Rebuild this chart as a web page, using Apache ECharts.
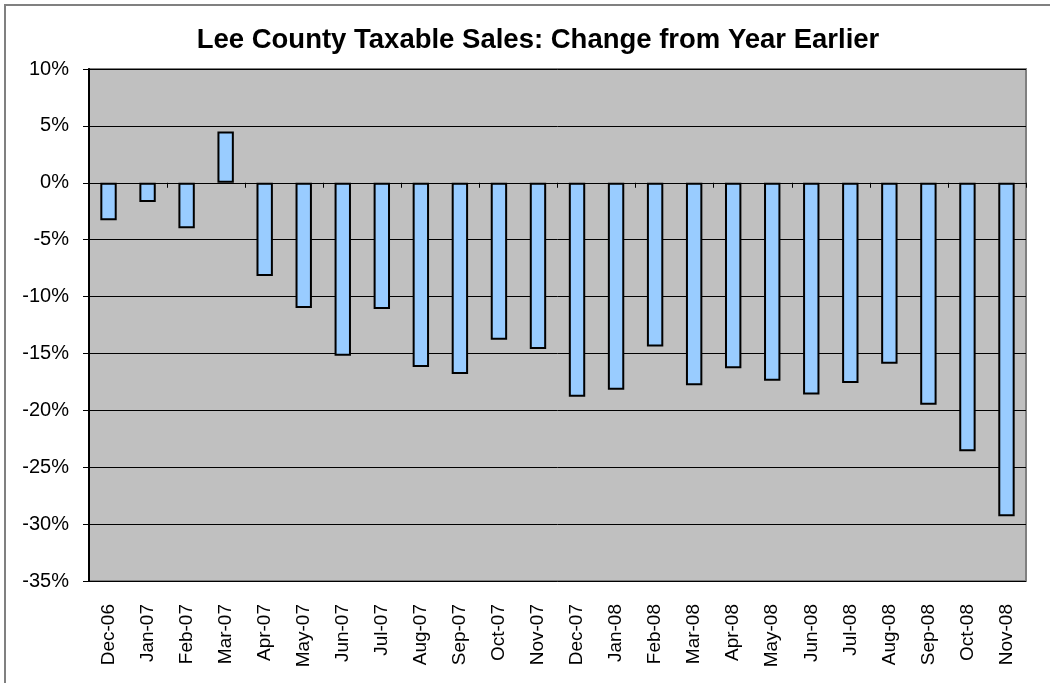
<!DOCTYPE html>
<html>
<head>
<meta charset="utf-8">
<script src="https://cdn.jsdelivr.net/npm/echarts@6/dist/echarts.min.js"></script>
<style>html,body{margin:0;padding:0;background:#fff}#c{width:1050px;height:683px}</style>
</head>
<body>
<div id="c"></div>
<script>
const titleText = 'Lee County Taxable Sales: Change from Year Earlier';
const categories = ['Dec-06','Jan-07','Feb-07','Mar-07','Apr-07','May-07','Jun-07','Jul-07','Aug-07','Sep-07','Oct-07','Nov-07','Dec-07','Jan-08','Feb-08','Mar-08','Apr-08','May-08','Jun-08','Jul-08','Aug-08','Sep-08','Oct-08','Nov-08'];
const changePct = [-3.3,-1.7,-4.0,4.5,-8.2,-11.0,-15.2,-11.1,-16.2,-16.8,-13.8,-14.6,-18.8,-18.2,-14.4,-17.8,-16.3,-17.4,-18.6,-17.6,-15.9,-19.5,-23.6,-29.3];
const yMin = -35, yMax = 10, yStep = 5;

const chart = echarts.init(document.getElementById('c'));
const font = 'Arial, "Liberation Sans", sans-serif';
chart.setOption({
  animation: false,
  backgroundColor: '#ffffff',
  title: {
    text: titleText, left: 533, top: 21, textAlign: 'center',
    textStyle: {fontFamily: font, fontSize: 27.5, fontWeight: 'bold', color: '#000'}
  },
  graphic: [
    {type: 'rect', shape: {x: 5, y: 5, width: 1200, height: 1200}, style: {fill: 'none', stroke: '#808080', lineWidth: 2}, z: 100}
  ],
  grid: {left: 89, right: 24, top: 69, bottom: 102, show: true, backgroundColor: '#c0c0c0', borderColor: '#808080', borderWidth: 2},
  xAxis: [
    {type: 'category', data: categories, position: 'bottom',
     axisLine: {show: false, onZero: false}, axisTick: {show: false},
     axisLabel: {rotate: 90, margin: 23, fontFamily: font, fontSize: 19, color: '#000'}},
    {type: 'category', data: categories, position: 'bottom',
     axisLine: {show: true, onZero: true, lineStyle: {color: '#000', width: 1}},
     axisTick: {show: true, length: 5, lineStyle: {color: '#000', width: 1}},
     axisLabel: {show: false}}
  ],
  yAxis: {
    type: 'value', min: yMin, max: yMax, interval: yStep,
    axisLine: {show: true, lineStyle: {color: '#000', width: 2}},
    axisTick: {show: true, length: 6, lineStyle: {color: '#000'}},
    axisLabel: {formatter: v => v + '%', fontFamily: font, fontSize: 20, color: '#000', margin: 20},
    splitLine: {show: true, lineStyle: {color: '#000', width: 1}}
  },
  series: [{
    type: 'bar', data: changePct, xAxisIndex: 0, barWidth: '42%',
    itemStyle: {color: '#99ccff', borderColor: '#000', borderWidth: 2}
  }]
});
</script>
</body>
</html>
